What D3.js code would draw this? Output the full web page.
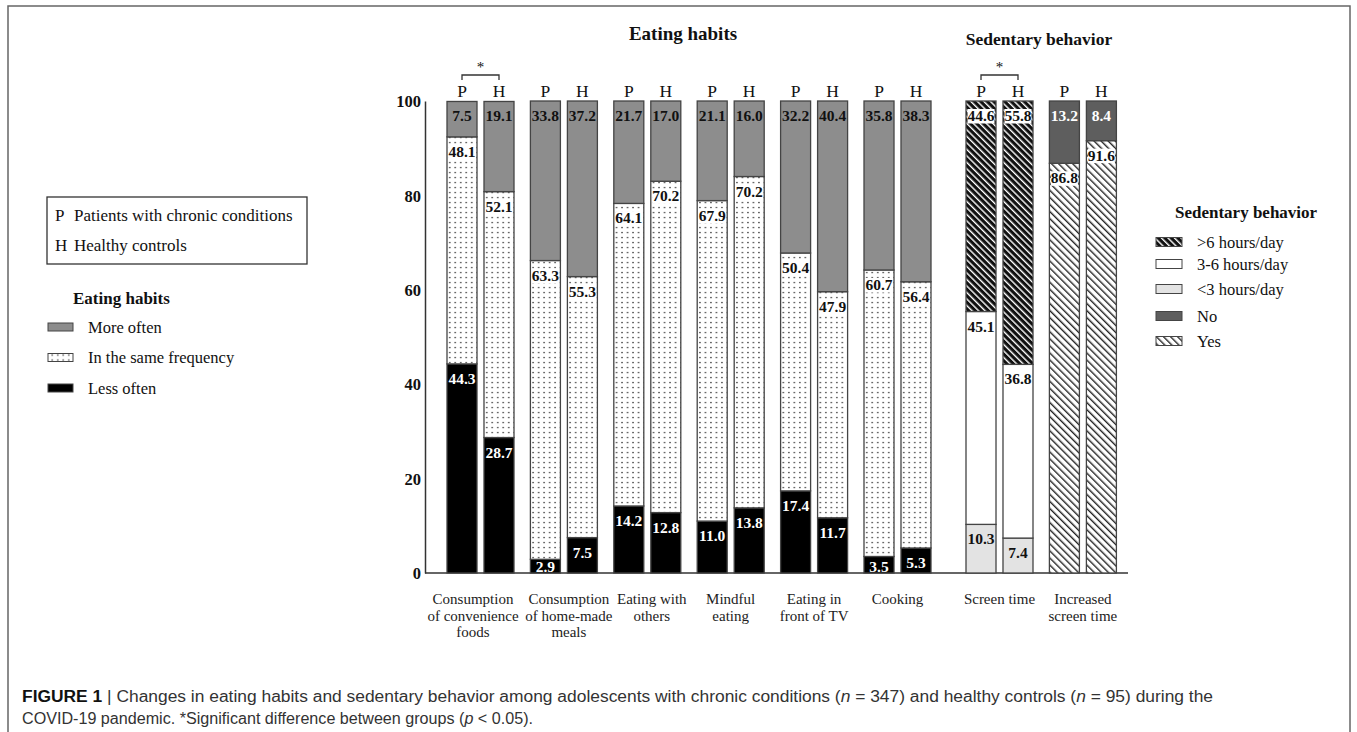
<!DOCTYPE html>
<html>
<head>
<meta charset="utf-8">
<script src="https://cdn.jsdelivr.net/npm/d3@7/dist/d3.min.js"></script>
<style>
  html, body { margin: 0; padding: 0; background: #fff; }
  svg { display: block; }
  .serif { font-family: "Liberation Serif", "Times New Roman", serif; }
  .sans { font-family: "Liberation Sans", Arial, sans-serif; }
</style>
</head>
<body>
<svg id="fig" width="1357" height="732"></svg>
<script>
// ---- data ----
const eatingCategories = [
  "Consumption\nof convenience\nfoods",
  "Consumption\nof home-made\nmeals",
  "Eating with\nothers",
  "Mindful\neating",
  "Eating in\nfront of TV",
  "Cooking"
];
const sedentaryCategories = ["Screen time", "Increased\nscreen time"];
const groupsPH = ["P", "H"];

// Eating habits (%), patients (P) and healthy controls (H)
const lessOftenP  = [44.3, 2.9, 14.2, 11.0, 17.4, 3.5];
const sameFreqP   = [48.1, 63.3, 64.1, 67.9, 50.4, 60.7];
const moreOftenP  = [7.5, 33.8, 21.7, 21.1, 32.2, 35.8];
const lessOftenH  = [28.7, 7.5, 12.8, 13.8, 11.7, 5.3];
const sameFreqH   = [52.1, 55.3, 70.2, 70.2, 47.9, 56.4];
const moreOftenH  = [19.1, 37.2, 17.0, 16.0, 40.4, 38.3];

// Screen time (%): <3, 3-6, >6 hours/day
const screenTimeP = [10.3, 45.1, 44.6];
const screenTimeH = [7.4, 36.8, 55.8];
// Increased screen time (%): Yes, No
const increasedP = [86.8, 13.2];
const increasedH = [91.6, 8.4];

const yTicks = [0, 20, 40, 60, 80, 100];
const significantGroups = [eatingCategories[0], sedentaryCategories[0]];

// small horizontal nudges for the wide category labels so they don't collide
const labelNudge = [-7.5, 5, 4.5, 0, 0, 0, 0, 0];

// ---- build stacked records ----
function stackBar(keys, values) {
  let acc = 0;
  return keys.map((k, i) => {
    const s = { key: k, y0: acc, y1: acc + values[i], value: values[i] };
    acc += values[i];
    return s;
  });
}
const eatKeys = ["less", "same", "more"];
const bars = [];
eatingCategories.forEach((c, i) => {
  bars.push({ group: c, who: "P", segs: stackBar(eatKeys, [lessOftenP[i], sameFreqP[i], moreOftenP[i]]) });
  bars.push({ group: c, who: "H", segs: stackBar(eatKeys, [lessOftenH[i], sameFreqH[i], moreOftenH[i]]) });
});
const screenKeys = ["lt3", "h36", "gt6"];
bars.push({ group: sedentaryCategories[0], who: "P", segs: stackBar(screenKeys, screenTimeP) });
bars.push({ group: sedentaryCategories[0], who: "H", segs: stackBar(screenKeys, screenTimeH) });
const incKeys = ["yes", "no"];
bars.push({ group: sedentaryCategories[1], who: "P", segs: stackBar(incKeys, increasedP) });
bars.push({ group: sedentaryCategories[1], who: "H", segs: stackBar(incKeys, increasedH) });

// ---- styles per segment ----
const segFill = {
  less: "#000", same: "url(#dots)", more: "#8d8d8d",
  gt6: "url(#hatchDark)", h36: "#fff", lt3: "#e3e3e3",
  no: "#5e5e5e", yes: "url(#hatchLight)"
};
const whiteText = new Set(["less", "no"]);
const boxedText = new Set(["same", "gt6", "yes"]);

// ---- svg ----
const svg = d3.select("#fig");
const defs = svg.append("defs");

const dots = defs.append("pattern").attr("id", "dots")
  .attr("patternUnits", "userSpaceOnUse").attr("width", 5.5).attr("height", 5);
dots.append("rect").attr("width", 5.5).attr("height", 5).attr("fill", "#fff");
dots.append("circle").attr("cx", 2.75).attr("cy", 2.5).attr("r", 0.85).attr("fill", "#4a4a4a");

const hd = defs.append("pattern").attr("id", "hatchDark")
  .attr("patternUnits", "userSpaceOnUse").attr("width", 4.6).attr("height", 10)
  .attr("patternTransform", "rotate(-45)");
hd.append("rect").attr("width", 4.6).attr("height", 10).attr("fill", "#111");
hd.append("rect").attr("x", 0).attr("width", 1.4).attr("height", 10).attr("fill", "#fff");

const hl = defs.append("pattern").attr("id", "hatchLight")
  .attr("patternUnits", "userSpaceOnUse").attr("width", 5).attr("height", 10)
  .attr("patternTransform", "rotate(-45)");
hl.append("rect").attr("width", 5).attr("height", 10).attr("fill", "#fff");
hl.append("rect").attr("x", 0).attr("width", 1.4).attr("height", 10).attr("fill", "#222");

// frame
svg.append("rect").attr("x", 8).attr("y", 6).attr("width", 1342).attr("height", 760)
  .attr("fill", "none").attr("stroke", "#666").attr("stroke-width", 1.5);

// ---- scales ----
const allGroups = eatingCategories.concat(sedentaryCategories);
const isSed = g => sedentaryCategories.includes(g);
const sedGap = 18.6;
const xGroup = d3.scaleBand().domain(allGroups).range([438.8, 1106]).padding(0);
const xMember = d3.scaleBand().domain(groupsPH).range([-33.5, 33.5]).paddingInner(0.189);
const gCenter = g => xGroup(g) + xGroup.bandwidth() / 2 + (isSed(g) ? sedGap : 0);
const y = d3.scaleLinear().domain([0, 100]).range([573, 101]);

// ---- y axis ----
const yAxis = svg.append("g").attr("transform", "translate(425,0)")
  .call(d3.axisLeft(y).tickValues(yTicks).tickSize(0).tickSizeOuter(0).tickPadding(4));
yAxis.select(".domain").attr("stroke", "#333").attr("stroke-width", 1.5);
yAxis.selectAll("text").attr("class", "serif").attr("font-size", 16.5)
  .attr("font-weight", "bold").attr("fill", "#111").attr("font-family", null)
  .attr("dy", "0.35em");

// baseline
svg.append("line").attr("x1", 425).attr("x2", 1128).attr("y1", y(0)).attr("y2", y(0))
  .attr("stroke", "#333").attr("stroke-width", 1.5);

// ---- bars ----
const barG = svg.append("g").selectAll("g").data(bars).join("g")
  .attr("transform", d => `translate(${gCenter(d.group) + xMember(d.who)},0)`);
const bw = xMember.bandwidth();

barG.selectAll("rect.seg").data(d => d.segs).join("rect").attr("class", "seg")
  .attr("x", 0).attr("width", bw)
  .attr("y", s => y(s.y1)).attr("height", s => y(s.y0) - y(s.y1))
  .attr("fill", s => segFill[s.key])
  .attr("stroke", "#444").attr("stroke-width", 1.3);

// value labels at top of each segment
const labG = barG.selectAll("g.lab").data(d => d.segs).join("g").attr("class", "lab")
  .attr("transform", s => `translate(${bw / 2},${Math.min(y(s.y1) + 20, y(0) - 1)})`);
labG.filter(s => boxedText.has(s.key)).append("rect")
  .attr("x", -13.5).attr("y", -12).attr("width", 27).attr("height", 14.5).attr("fill", "#fff");
labG.append("text").attr("class", "serif").attr("text-anchor", "middle")
  .attr("font-size", 15.5).attr("font-weight", "bold")
  .attr("fill", s => whiteText.has(s.key) ? "#fff" : "#111")
  .text(s => s.value.toFixed(1));

// P / H headers
barG.append("text").attr("class", "serif").attr("x", bw / 2).attr("y", 97)
  .attr("text-anchor", "middle").attr("font-size", 17.5).attr("fill", "#111")
  .text(d => d.who);

// significance brackets
const sig = svg.append("g").selectAll("g").data(significantGroups).join("g");
sig.append("path")
  .attr("d", g => {
    const a = gCenter(g) + xMember("P") + bw / 2, b = gCenter(g) + xMember("H") + bw / 2;
    return `M${a},80V75H${b}V80`;
  })
  .attr("fill", "none").attr("stroke", "#333").attr("stroke-width", 1.3);
sig.append("text").attr("class", "serif").attr("x", g => gCenter(g)).attr("y", 72)
  .attr("text-anchor", "middle").attr("font-size", 15).attr("fill", "#111").text("*");

// category labels
const cat = svg.append("g").selectAll("text").data(allGroups).join("text")
  .attr("class", "serif").attr("font-size", 15).attr("fill", "#222")
  .attr("text-anchor", "middle").attr("y", 604);
cat.selectAll("tspan").data((g, i) => g.split("\n").map(t => ({ t, x: gCenter(g) + labelNudge[i] })))
  .join("tspan")
  .attr("x", d => d.x).attr("dy", (d, i) => i === 0 ? 0 : 16.5).text(d => d.t);

// section titles
svg.append("text").attr("class", "serif").attr("x", 683).attr("y", 40)
  .attr("text-anchor", "middle").attr("font-size", 19).attr("font-weight", "bold")
  .attr("fill", "#111").text("Eating habits");
svg.append("text").attr("class", "serif").attr("x", 1039).attr("y", 45)
  .attr("text-anchor", "middle").attr("font-size", 17.5).attr("font-weight", "bold")
  .attr("fill", "#111").text("Sedentary behavior");

// ---- left legend ----
const groupLegend = [["P", "Patients with chronic conditions"], ["H", "Healthy controls"]];
svg.append("rect").attr("x", 47).attr("y", 197).attr("width", 260).attr("height", 67)
  .attr("fill", "none").attr("stroke", "#333").attr("stroke-width", 1.3);
const gl = svg.append("g").selectAll("g").data(groupLegend).join("g")
  .attr("transform", (d, i) => `translate(0,${221 + i * 30})`);
gl.append("text").attr("class", "serif").attr("x", 55).attr("font-size", 17).attr("fill", "#111").text(d => d[0]);
gl.append("text").attr("class", "serif").attr("x", 74).attr("font-size", 17).attr("fill", "#111").text(d => d[1]);

svg.append("text").attr("class", "serif").attr("x", 73).attr("y", 304)
  .attr("font-size", 17).attr("font-weight", "bold").attr("fill", "#111").text("Eating habits");
const eatLegend = [["more", "More often"], ["same", "In the same frequency"], ["less", "Less often"]];
const el = svg.append("g").selectAll("g").data(eatLegend).join("g")
  .attr("transform", (d, i) => `translate(0,${327 + i * 30.5})`);
el.append("rect").attr("x", 48).attr("y", -4).attr("width", 25).attr("height", 8)
  .attr("fill", d => segFill[d[0]]).attr("stroke", "#444").attr("stroke-width", 1);
el.append("text").attr("class", "serif").attr("x", 88).attr("y", 5.5)
  .attr("font-size", 16.5).attr("fill", "#111").text(d => d[1]);

// ---- right legend ----
svg.append("text").attr("class", "serif").attr("x", 1175).attr("y", 218)
  .attr("font-size", 17).attr("font-weight", "bold").attr("fill", "#111").text("Sedentary behavior");
const sedLegend = [["gt6", ">6 hours/day"], ["h36", "3-6 hours/day"], ["lt3", "<3 hours/day"], ["no", "No"], ["yes", "Yes"]];
const sedLegendY = [242, 264, 289, 316, 341];
const sl = svg.append("g").selectAll("g").data(sedLegend).join("g")
  .attr("transform", (d, i) => `translate(0,${sedLegendY[i]})`);
sl.append("rect").attr("x", 1156).attr("y", -4.5).attr("width", 26).attr("height", 9)
  .attr("fill", d => segFill[d[0]]).attr("stroke", "#444").attr("stroke-width", 1);
sl.append("text").attr("class", "serif").attr("x", 1197).attr("y", 5.5)
  .attr("font-size", 16.5).attr("fill", "#111").text(d => d[1]);

// ---- caption ----
const cap1 = svg.append("text").attr("class", "sans").attr("x", 22).attr("y", 702)
  .attr("font-size", 16).attr("fill", "#333")
  .attr("textLength", 1191).attr("lengthAdjust", "spacingAndGlyphs");
cap1.append("tspan").attr("font-weight", "bold").attr("fill", "#111").text("FIGURE 1");
cap1.append("tspan").text(" | Changes in eating habits and sedentary behavior among adolescents with chronic conditions (");
cap1.append("tspan").attr("font-style", "italic").text("n");
cap1.append("tspan").text(" = 347) and healthy controls (");
cap1.append("tspan").attr("font-style", "italic").text("n");
cap1.append("tspan").text(" = 95) during the");
const cap2 = svg.append("text").attr("class", "sans").attr("x", 22).attr("y", 724)
  .attr("font-size", 16).attr("fill", "#333")
  .attr("textLength", 511).attr("lengthAdjust", "spacingAndGlyphs");
cap2.append("tspan").text("COVID-19 pandemic. *Significant difference between groups (");
cap2.append("tspan").attr("font-style", "italic").text("p");
cap2.append("tspan").text(" < 0.05).");
</script>
</body>
</html>
